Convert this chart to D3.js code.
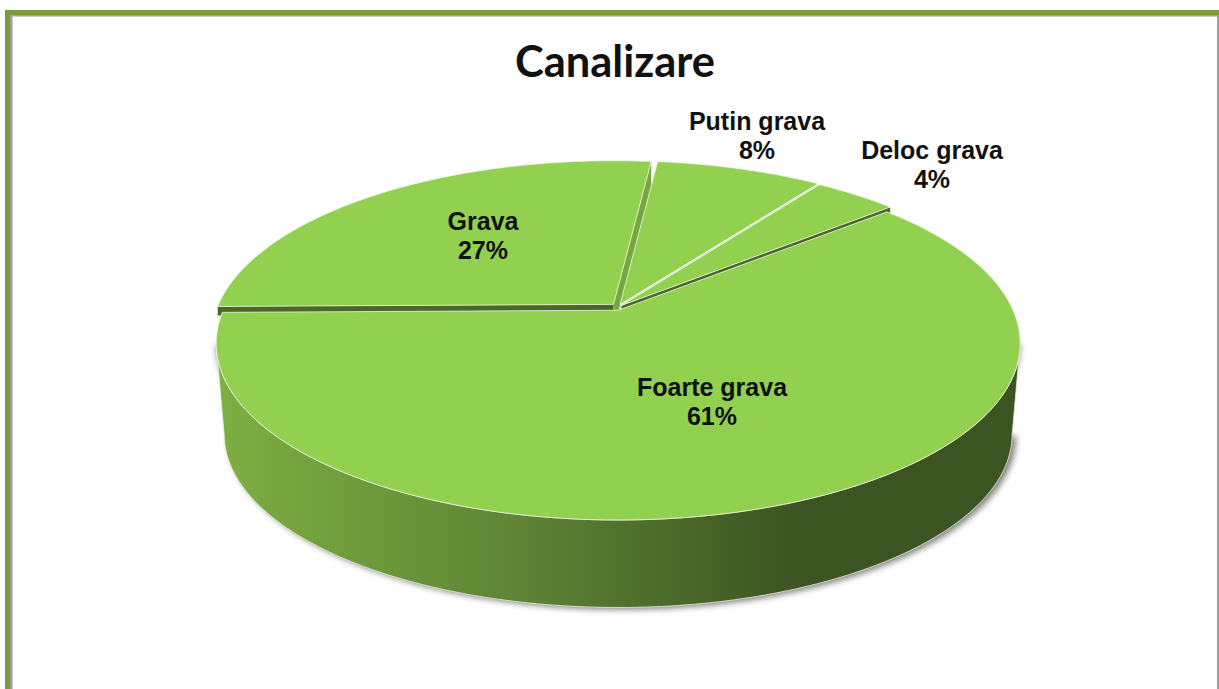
<!DOCTYPE html>
<html>
<head>
<meta charset="utf-8">
<script src="https://cdn.jsdelivr.net/npm/d3@7"></script>
<style>
    html, body { margin: 0; padding: 0; background: #fff; overflow: hidden; }
    svg { display: block; }
</style>
</head>
<body>
<svg id="chart"></svg>
<script>
// Chart data
const categories = ["Foarte grava", "Grava", "Putin grava", "Deloc grava"];
const percents = [61, 27, 8, 4];
const chartTitle = "Canalizare";

const width = 1219, height = 689;

// Pie geometry (ellipse of the top face and the perspective tilt)
const cx = 617, cy = 340, rx = 402, ry = 176.7;
const tilt = -0.187;
const pieDepth = 91, bottomScale = 0.98;

const topColor = "#92d050";
const labelOffsets = [[95, 56], [-134, -110], [140, -210], [315, -181]];
// How far each slice is pulled out of the pie
const sliceOffsets = {
    "Foarte grava": [1.2, 3.3],
    "Grava": [-3.5, -2.6],
    "Putin grava": [3, -2.5],
    "Deloc grava": [4.5, -1.5]
};
// Cut faces of the slices: [start edge, end edge], with how far each one drops
const sideFaces = {
    "Grava": [["#4a6729", 9], ["#76a63e", 26]],
    "Putin grava": [["#76a63e", 0], ["#dfe8d0", 9]],
    "Deloc grava": [["#dfe8d0", 0], ["#4a6729", 9]]
};

const svg = d3.select("#chart").attr("width", width).attr("height", height);
const defs = svg.append("defs");

const wallGradient = defs.append("linearGradient")
    .attr("id", "wallGradient")
    .attr("gradientUnits", "userSpaceOnUse")
    .attr("x1", 222).attr("x2", 800).attr("y1", 0).attr("y2", 0);
wallGradient.append("stop").attr("offset", 0).attr("stop-color", "#7dae42");
wallGradient.append("stop").attr("offset", 0.5).attr("stop-color", "#5f8535");
wallGradient.append("stop").attr("offset", 1).attr("stop-color", "#3c5322");

defs.append("filter").attr("id", "blur")
    .attr("x", "-5%").attr("y", "-5%").attr("width", "110%").attr("height", "110%")
    .append("feGaussianBlur").attr("stdDeviation", 3);

// Project a point of the unit disc (angle clockwise from the top) onto the page
function project(angle, r, drop) {
    const u = r * Math.sin(angle), v = -r * Math.cos(angle);
    const d = 1 + tilt * v;
    const s = drop ? bottomScale : 1;
    return [
        cx + s * rx * u * Math.sqrt(1 - tilt * tilt) / d,
        cy + s * ry * (v + tilt) / d + (drop || 0)
    ];
}

const line = d3.line();

const pie = d3.pie().sort(null).startAngle(49.7 * Math.PI / 180)
    .endAngle((49.7 + 360) * Math.PI / 180);
const arcs = pie(percents);

function slicePoints(d, name) {
    const [ox, oy] = sliceOffsets[name];
    const angles = d3.range(0, 1.0001, 1 / 120).map(t => d.startAngle + t * (d.endAngle - d.startAngle));
    const pts = [project(0, 0, 0)].concat(angles.map(a => project(a, 1, 0)));
    return pts.map(p => [p[0] + ox, p[1] + oy]);
}

// Outer wall of the cylinder, between the widest points of the top and bottom faces
const widest = Math.acos(tilt) * 180 / Math.PI;
const wallAngles = d3.range(widest, 360 - widest + 0.5, 1).map(a => a * Math.PI / 180);
const [fx, fy] = sliceOffsets[categories[0]];
const wallTop = wallAngles.map(a => project(a, 1, 0)).map(p => [p[0] + fx, p[1] + fy]);
const wallBottom = wallAngles.map(a => project(a, 1, pieDepth)).reverse().map(p => [p[0] + fx, p[1] + fy]);

svg.append("path")
    .attr("d", line(wallBottom.map(p => [p[0] + 4, p[1] + 2]).concat(wallTop.slice().reverse())) + "Z")
    .attr("fill", "#555")
    .attr("opacity", 0.75)
    .attr("filter", "url(#blur)");

svg.append("path")
    .attr("d", line(wallTop.concat(wallBottom)) + "Z")
    .attr("fill", "url(#wallGradient)")
    .attr("stroke", "#e8eee0")
    .attr("stroke-width", 0.8);

// Slices, back ones first so the big front slice covers their cut faces
const drawOrder = [1, 2, 3, 0];
const sliceGroup = svg.append("g");

drawOrder.forEach(i => {
    const d = arcs[i];
    const name = categories[i];
    const [ox, oy] = sliceOffsets[name];

    if (sideFaces[name]) {
        [d.startAngle, d.endAngle].forEach((a, k) => {
            const [color, drop] = sideFaces[name][k];
            if (!drop) return;
            const p0 = project(a, 0, 0), p1 = project(a, 1, 0);
            const quad = [p0, p1, [p1[0], p1[1] + drop], [p0[0], p0[1] + drop]]
                .map(p => [p[0] + ox, p[1] + oy]);
            sliceGroup.append("path")
                .attr("d", line(quad) + "Z")
                .attr("fill", color);
        });
    }

    sliceGroup.append("path")
        .attr("class", "slice")
        .attr("d", line(slicePoints(d, name)) + "Z")
        .attr("fill", topColor)
        .attr("stroke", "#eef5e2")
        .attr("stroke-width", 0.8)
        .attr("stroke-linejoin", "round");
});

// Labels
categories.forEach((name, i) => {
    const lx = cx + labelOffsets[i][0], ly = cy + labelOffsets[i][1];
    const label = svg.append("text")
        .attr("text-anchor", "middle")
        .attr("font-family", "'Liberation Sans', Arial, sans-serif")
        .attr("font-weight", "bold")
        .attr("font-size", 25)
        .attr("fill", "#111");
    label.append("tspan").attr("x", lx).attr("y", ly).text(name);
    label.append("tspan").attr("x", lx).attr("y", ly + 29).text(percents[i] + "%");
});

// Title
svg.append("text")
    .attr("x", 615).attr("y", 77)
    .attr("text-anchor", "middle")
    .attr("font-family", "Lato, 'Open Sans', sans-serif")
    .attr("font-weight", "bold")
    .attr("font-size", 43.5)
    .attr("fill", "#111")
    .text(chartTitle);

// Frame of the sheet
const frame = svg.append("g");
frame.append("rect").attr("x", 5).attr("y", 10).attr("width", width - 5).attr("height", 5).attr("fill", "#7d9a3c");
frame.append("rect").attr("x", 5).attr("y", 10).attr("width", 5).attr("height", height - 10).attr("fill", "#7d9a3c");
frame.append("rect").attr("x", 10).attr("y", 15).attr("width", width - 10).attr("height", 1.5).attr("fill", "#a0a0a0");
frame.append("rect").attr("x", 10).attr("y", 15).attr("width", 2.5).attr("height", height - 15).attr("fill", "#a0a0a0");
frame.append("rect").attr("x", width - 2).attr("y", 15).attr("width", 2).attr("height", height - 15).attr("fill", "#a0a0a0");
</script>
</body>
</html>
